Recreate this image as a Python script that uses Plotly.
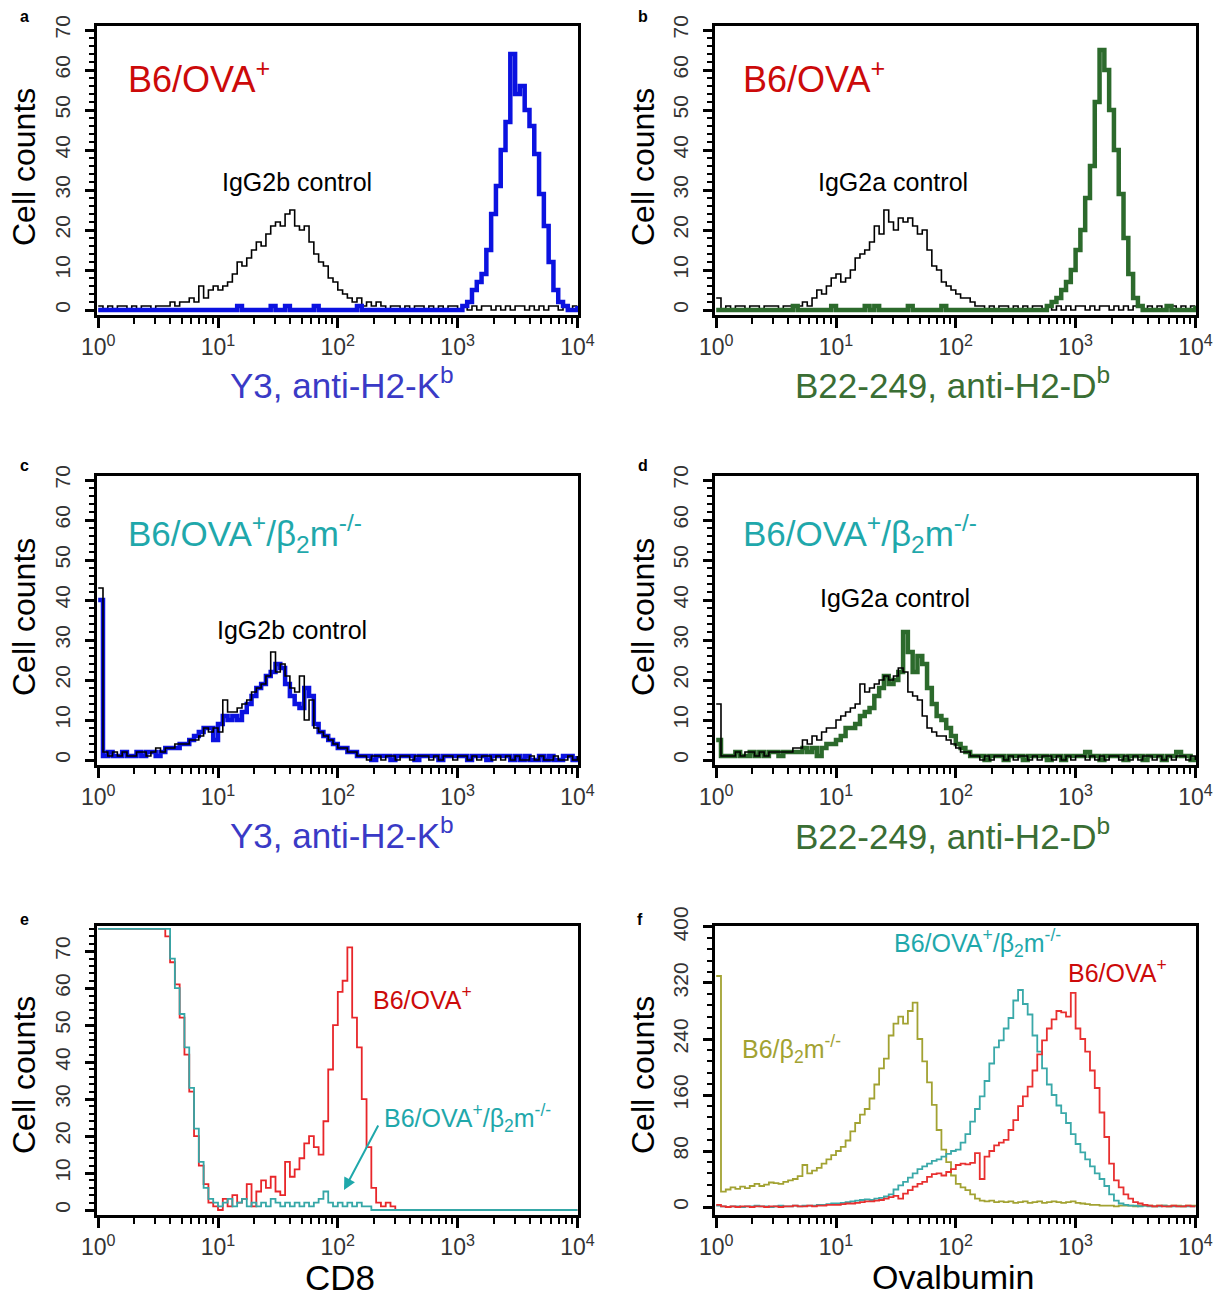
import plotly.graph_objects as go

W, H = 1218, 1296

# histogram channel grid (log10 of fluorescence intensity), 101 channels over 4 decades
channel_log = [round(0.04 * i, 2) for i in range(101)]
intensity = [10 ** c for c in channel_log]

# ---------------- panel a ----------------
a_ctrl = ([1, 0, 1, 0, 1, 1, 0, 1, 0, 1, 1, 0, 1, 1, 1] +
          [2, 1, 2, 2, 3, 2, 6, 3, 5, 6, 5, 6, 7, 9, 12, 11, 13, 15, 17, 16,
           19, 21, 22, 21, 24, 25, 21, 20, 21, 17, 14, 12, 11, 8, 7, 5, 4, 3, 2, 3,
           1, 2, 1, 2, 1] +
          [0, 1, 1, 0, 1, 0, 1, 1, 0, 1, 0, 1, 0, 1, 1, 0, 1, 0, 1, 0,
           1, 1, 0, 1, 0, 1, 0, 1, 1, 0, 1, 0, 1, 0, 1, 1, 0, 1, 0, 1, 1])
a_y3 = ([0] * 29 + [1] + [0] * 6 + [1] + [0, 0] + [1] + [0] * 5 + [1] + [0] * 8 + [1] + [0] * 21 +
        [1, 2, 5, 7, 9, 15, 24, 31, 40, 47, 64, 54, 56, 50, 46, 39, 29, 21, 12, 5, 2, 1, 0, 0, 1])

# ---------------- panel b ----------------
b_ctrl = ([3] +
          [0, 1, 0, 1, 1, 0, 1, 1, 0, 1, 1, 1, 0, 1, 1, 1, 1, 2, 1] +
          [3, 5, 4, 6, 8, 9, 7, 8, 10, 13, 14, 15, 17, 21, 19, 25, 22, 20, 23, 22,
           23, 21, 19, 20, 15, 11, 10, 7, 6, 5, 4, 3, 3, 2, 1, 1] +
          [0, 1, 0, 1, 1, 0, 1, 0, 1, 0, 1, 1, 0, 1, 0, 1, 0, 1, 0, 1,
           1, 0, 1, 0, 1, 1, 0, 1, 0, 1, 0, 1, 1, 0, 1, 0, 1, 0, 1, 1, 0, 1, 0, 1, 1])
b_b22 = ([0] * 16 + [1] + [0] * 7 + [1] + [0] * 6 + [1, 0, 1] + [0] * 6 + [1] + [0] * 6 + [1] + [0] * 21 +
         [1, 2, 3, 5, 7, 10, 15, 20, 28, 36, 52, 65, 60, 50, 40, 29, 18, 9, 3, 1,
          0, 0, 0, 0, 0, 1, 0, 0, 0, 0, 0, 1])

# ---------------- panel c ----------------
c_y3 = ([40] + [1, 2, 1, 1, 2, 1, 1, 2, 1, 2, 2, 1, 2, 3] +
        [3, 3, 4, 4, 5, 6, 7, 8, 8, 5, 9, 11, 10, 11, 10, 12, 14, 16, 18, 19,
         21, 22, 24, 23, 19, 16, 14, 13, 18, 16, 9, 7, 6, 5, 4, 3, 3, 2, 2, 1] +
        [1, 1, 0, 1, 1, 1, 0, 1, 1, 1, 1, 0, 1, 1, 1, 1, 0, 1, 1, 1,
         1, 1, 0, 1, 1, 1, 0, 1, 1, 1, 1, 0, 1, 0, 1, 0, 0, 1, 0, 1, 0, 0, 1, 1, 0, 1])
c_ctrl = ([43, 2] + [1, 2, 1, 2, 1, 1, 2, 2, 1, 2, 3, 2, 3] +
          [3, 4, 4, 4, 5, 5, 6, 8, 7, 8, 7, 15, 12, 12, 13, 14, 15, 17, 18, 19,
           21, 27, 22, 24, 21, 18, 17, 21, 10, 15, 8, 7, 6, 5, 4, 3, 3, 2, 2, 1] +
          [1, 0, 1, 1, 0, 1, 1, 0, 1, 1, 0, 1, 1, 1, 0, 1, 0, 1, 1, 0,
           1, 1, 0, 1, 0, 1, 1, 0, 1, 0, 1, 0, 1, 0, 0, 1, 0, 1, 0, 0, 1, 0, 0, 1, 0, 1])

# ---------------- panel d ----------------
d_b22 = ([5, 1] + [1, 1, 2, 1, 1, 2, 1, 2, 1, 2, 2, 1, 2] +
         [2, 2, 2, 3, 2, 3, 1, 3, 4, 4, 5, 6, 8, 8, 9, 11, 12, 13, 16, 18,
          21, 19, 20, 22, 32, 27, 22, 26, 24, 18, 14, 11, 10, 8, 6, 4, 3, 2, 1] +
         [1, 1, 0, 1, 1, 1, 0, 1, 1, 1, 0, 1, 1, 1, 1, 0, 1, 1, 0, 1,
          1, 1, 1, 2, 1, 1, 0, 1, 1, 1, 1, 0, 1, 1, 1, 0, 1, 1, 1, 0, 1, 1, 2, 1, 1, 0, 1])
d_ctrl = ([14, 1] + [1, 1, 2, 1, 2, 2, 1, 2, 1, 2, 2, 2, 2] +
          [2, 3, 3, 5, 4, 6, 5, 7, 8, 8, 10, 11, 12, 13, 14, 19, 17, 18, 19, 20,
           21, 20, 21, 23, 22, 17, 16, 15, 11, 8, 7, 6, 6, 5, 4, 3, 2, 2, 1] +
          [1, 0, 1, 0, 1, 1, 0, 1, 0, 1, 1, 0, 1, 0, 1, 1, 0, 1, 0, 1,
           0, 1, 1, 0, 1, 0, 1, 0, 1, 1, 0, 1, 0, 1, 0, 1, 1, 0, 1, 0, 1, 0, 1, 1, 0, 1, 0])

# ---------------- panel e (CD8) ----------------
e_ova = ([76] * 14 +
         [74, 67, 61, 52, 42, 32, 20, 12, 7, 2, 1, 0, 3, 1, 4, 2, 3, 7, 1, 5,
          8, 6, 9, 5, 4, 13, 9, 11, 14, 18, 20, 17, 15, 24, 38, 50, 59, 62, 71, 52,
          44, 30, 17, 6, 2, 1, 2, 1] +
         [0] * 39)
e_b2m = ([76] * 15 +
         [68, 60, 53, 44, 33, 22, 13, 6, 3, 2, 1, 2, 3, 1, 2, 3, 1, 2, 1, 2,
          1, 3, 2, 1, 2, 1, 2, 1, 2, 1, 2, 3, 5, 2, 1, 2, 1, 2, 1, 2, 1, 1, 0] +
         [0] * 43)

# ---------------- panel f (Ovalbumin) ----------------
f_b2m = ([330] + [22, 25, 28, 26, 29, 27, 30, 33, 30, 32, 35, 34, 33, 36] +
         [38, 40, 44, 60, 48, 52, 56, 62, 68, 74, 80, 86, 95, 108, 120, 132, 140, 155, 175, 198,
          212, 245, 262, 272, 262, 280, 292, 240, 208, 178, 146, 110, 82, 64, 45, 33, 28, 24, 18, 12,
          9, 8] +
         [9, 7, 8, 7, 8, 6, 7, 8, 6, 7, 8, 6, 7, 8, 7, 6, 7, 8, 6, 5, 4, 3, 3, 2] +
         [2, 2, 1, 2, 2, 2, 1, 2, 2, 2, 1, 2, 2, 1, 2, 2, 1, 2, 2, 1])
f_ova_b2m = ([2] + [1, 0, 1, 1, 0, 1, 1, 2, 1, 1, 0, 1, 2, 1, 1, 2, 1, 2, 2] +
             [2, 3, 3, 4, 5, 5, 6, 7, 8, 9, 10, 11, 10, 12, 13, 15, 18, 25, 31, 36,
              42, 48, 54, 58, 62, 66, 68, 72, 76, 80, 82, 92, 104, 122, 140, 158, 180, 205, 228, 238,
              255, 270, 295, 310, 290, 275, 245, 222, 198, 175, 160, 145, 134, 120, 104, 90, 78, 68, 58, 48,
              40, 30, 18, 9, 5, 3] +
             [2, 2, 1, 2, 1, 1, 1, 2, 1, 1, 1, 1, 1, 1, 1])
f_ova = ([3] + [1, 0, 1, 0, 1, 1, 0, 1, 1, 0, 1, 1, 0, 1, 1, 2, 1, 1, 2, 1, 2, 2, 3, 3] +
         [3, 4, 5, 5, 6, 7, 8, 8, 9, 10, 12, 14, 16, 12, 19, 24, 29, 33, 36, 43,
          47, 48, 45, 50, 54, 60, 62, 61, 63, 77, 40, 72, 80, 88, 92, 96, 110, 124, 144, 158,
          172, 195, 218, 238, 255, 268, 280, 278, 272, 306, 255, 240, 222, 195, 170, 135, 100, 62, 38, 28,
          18, 12, 7, 5, 3, 2] +
         [1, 2, 1, 1, 2, 1, 1, 2, 1, 1])

x_tickvals = [1, 10, 100, 1000, 10000]
x_ticktext = ["10<sup>0</sup>", "10<sup>1</sup>", "10<sup>2</sup>", "10<sup>3</sup>", "10<sup>4</sup>"]
x_minor = [m * 10 ** d for d in range(4) for m in range(2, 10)]

FONT = "Liberation Sans, Arial, sans-serif"
BLACK = "#000000"
BLUE = "#0b12e0"
GREEN = "#2c6a2c"
RED_T = "#cc0a0a"
TEAL_T = "#1fa8ab"
E_RED = "#e8262a"
E_TEAL = "#35a7a7"
F_RED = "#e83030"
F_TEAL = "#3aa9a9"
F_OLIVE = "#a2a232"


def fx(px):
    return px / W


def fy(py):
    return 1 - py / H


fig = go.Figure()

# (suffix, x px domain, y px domain, y range, major dtick, minor dtick)
panels = {
    "a": ("", (97, 578), (26, 315), [-1.25, 71], 10, 2),
    "b": ("2", (715, 1196), (26, 315), [-1.25, 71], 10, 2),
    "c": ("3", (97, 578), (476, 765), [-1.25, 71], 10, 2),
    "d": ("4", (715, 1196), (476, 765), [-1.25, 71], 10, 2),
    "e": ("5", (97, 578), (926, 1215), [-1.35, 76.8], 10, 2),
    "f": ("6", (715, 1196), (926, 1215), [-11.4, 401.4], 80, 16),
}

traces = [
    ("a", a_ctrl, BLACK, 1.6),
    ("a", a_y3, BLUE, 4.5),
    ("b", b_ctrl, BLACK, 1.6),
    ("b", b_b22, GREEN, 4.5),
    ("c", c_y3, BLUE, 4.5),
    ("c", c_ctrl, BLACK, 1.6),
    ("d", d_b22, GREEN, 4.5),
    ("d", d_ctrl, BLACK, 1.6),
    ("e", e_ova, E_RED, 1.8),
    ("e", e_b2m, E_TEAL, 1.8),
    ("f", f_b2m, F_OLIVE, 1.8),
    ("f", f_ova_b2m, F_TEAL, 1.8),
    ("f", f_ova, F_RED, 1.8),
]

for pid, counts, color, lw in traces:
    suf = panels[pid][0]
    fig.add_trace(go.Scatter(
        x=intensity, y=counts, mode="lines", line=dict(color=color, width=lw, shape="hv"),
        xaxis="x" + suf, yaxis="y" + suf, showlegend=False, hoverinfo="skip"))

layout = {}
for pid, (suf, xd, yd, yr, dt, mdt) in panels.items():
    layout["xaxis" + suf] = dict(
        type="log", range=[-0.01, 4.005], domain=[fx(xd[0]), fx(xd[1])],
        anchor="y" + suf, automargin=False,
        showline=True, linewidth=2.5, linecolor="black", mirror=True,
        showgrid=False, zeroline=False, ticks="outside", ticklen=10, tickwidth=2.5,
        tickcolor="black", tickmode="array", tickvals=x_tickvals, ticktext=x_ticktext,
        tickfont=dict(family=FONT, size=23, color="#333333"),
        minor=dict(ticks="outside", ticklen=6, tickwidth=2, tickcolor="black",
                   tickmode="array", tickvals=x_minor, showgrid=False),
    )
    layout["yaxis" + suf] = dict(
        range=yr, domain=[fy(yd[1]), fy(yd[0])], anchor="x" + suf, automargin=False,
        showline=True, linewidth=2.5, linecolor="black", mirror=True,
        showgrid=False, zeroline=False, ticks="outside", ticklen=9, tickwidth=2.5,
        tickcolor="black", tick0=0, dtick=dt, tickangle=-90, ticklabelstandoff=7,
        tickfont=dict(family=FONT, size=21, color="#333333"),
        minor=dict(ticks="outside", ticklen=5, tickwidth=2, tickcolor="black",
                   tick0=0, dtick=mdt, showgrid=False),
    )

ann = []


def text(x, y, s, size, color="black", xanchor="center", angle=0, yanchor="middle"):
    ann.append(dict(x=fx(x), y=fy(y), xref="paper", yref="paper", text=s, showarrow=False,
                    xanchor=xanchor, yanchor=yanchor, textangle=angle,
                    font=dict(family=FONT, size=size, color=color)))


# panel letters
for lab, (x, y) in {"a": (24, 16), "b": (643, 16), "c": (24, 466), "d": (643, 466),
                    "e": (24, 919), "f": (640, 919)}.items():
    text(x, y, "<b>%s</b>" % lab, 16)

# y titles
for (x, y) in [(24, 167), (643, 167), (24, 617), (643, 617), (24, 1075), (643, 1075)]:
    text(x, y, "Cell counts", 32, angle=-90)

# x titles
XT_BLUE = "#3a3ac6"
XT_GREEN = "#3a6e34"
text(342, 383, "Y3, anti-H2-K<sup>b</sup>", 35, XT_BLUE)
text(952, 383, "B22-249, anti-H2-D<sup>b</sup>", 35, XT_GREEN)
text(342, 833, "Y3, anti-H2-K<sup>b</sup>", 35, XT_BLUE)
text(952, 834, "B22-249, anti-H2-D<sup>b</sup>", 35, XT_GREEN)
text(340, 1277, "CD8", 35)
text(953, 1277, "Ovalbumin", 34)

# in-plot labels
OVA = "B6/OVA<sup>+</sup>"
OVA_B2M = "B6/OVA<sup>+</sup>/β<sub>2</sub>m<sup>-/-</sup>"
text(126, 77, OVA, 36, RED_T, xanchor="left")
text(741, 77, OVA, 36, RED_T, xanchor="left")
text(126, 533, OVA_B2M, 35, TEAL_T, xanchor="left")
text(741, 533, OVA_B2M, 35, TEAL_T, xanchor="left")
text(297, 182, "IgG2b control", 25)
text(893, 182, "IgG2a control", 25)
text(292, 630, "IgG2b control", 25)
text(895, 598, "IgG2a control", 25)
text(371, 998, OVA, 25, RED_T, xanchor="left")
text(382, 1118, OVA_B2M, 25, TEAL_T, xanchor="left")
text(892, 943, OVA_B2M, 25, TEAL_T, xanchor="left")
text(1066, 971, OVA, 25, RED_T, xanchor="left")
text(740, 1049, "B6/β<sub>2</sub>m<sup>-/-</sup>", 25, F_OLIVE, xanchor="left")

# arrow in panel e
ann.append(dict(x=fx(344), y=fy(1190), xref="paper", yref="paper", text="", showarrow=True,
                ax=379 - 344, ay=1124 - 1190, arrowhead=2, arrowsize=1.2, arrowwidth=2,
                arrowcolor=TEAL_T))

fig.update_layout(
    width=W, height=H, margin=dict(l=0, r=0, t=0, b=0, autoexpand=False),
    paper_bgcolor="white", plot_bgcolor="white",
    annotations=ann, showlegend=False, **layout)

fig.write_html("out.html")
